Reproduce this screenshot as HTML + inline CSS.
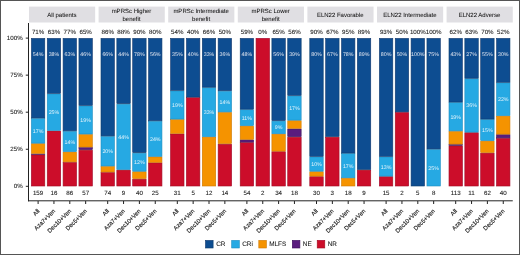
<!DOCTYPE html><html><head><meta charset="utf-8"><style>html,body{margin:0;padding:0;background:#fff;}svg{display:block;will-change:transform;text-rendering:geometricPrecision;font-family:"Liberation Sans",sans-serif;}</style></head><body>
<svg width="520" height="255" viewBox="0 0 520 255">
<defs><filter id="bl" x="-2%" y="-2%" width="104%" height="104%"><feGaussianBlur stdDeviation="0.4"/></filter></defs>
<rect x="0" y="0" width="520" height="255" fill="#fff"/>
<g filter="url(#bl)">
<rect x="28.99" y="6.6" width="66.17" height="15.9" fill="#e0dfe3"/>
<text x="61.88" y="16.8" font-size="6.0" fill="#111" stroke="#111" stroke-width="0.04" text-anchor="middle">All patients</text>
<rect x="31.40" y="154.91" width="13.40" height="31.09" fill="#cc0a2c" stroke="#a00820" stroke-width="0.6"/>
<rect x="31.40" y="153.98" width="13.40" height="0.33" fill="#5a1f7e" stroke="#3a1058" stroke-width="0.6"/>
<rect x="31.40" y="143.72" width="13.40" height="9.65" fill="#f59300" stroke="#d07a00" stroke-width="0.6"/>
<rect x="31.40" y="118.56" width="13.40" height="24.57" fill="#27a9e3" stroke="#1d8cc0" stroke-width="0.6"/>
<rect x="31.40" y="38.40" width="13.40" height="79.56" fill="#114d91" stroke="#0a386c" stroke-width="0.6"/>
<text x="38.10" y="34.0" font-size="6.2" fill="#111" stroke="#111" stroke-width="0.06" text-anchor="middle">71%</text>
<text x="38.10" y="55.6" font-size="5.3" fill="#fff" fill-opacity="0.88" text-anchor="middle">54%</text>
<text x="38.10" y="132.84" font-size="5.3" fill="#fff" fill-opacity="0.88" text-anchor="middle">17%</text>
<text x="38.10" y="194.8" font-size="6.2" fill="#111" stroke="#111" stroke-width="0.06" text-anchor="middle">159</text>
<line x1="38.10" y1="201" x2="38.10" y2="204" stroke="#222" stroke-width="1"/>
<text transform="translate(36.90,208.6) rotate(-45)" font-size="5.9" fill="#222" stroke="#222" stroke-width="0.15" text-anchor="end" dy="0.7em">All</text>
<rect x="47.25" y="131.03" width="13.40" height="54.98" fill="#cc0a2c" stroke="#a00820" stroke-width="0.6"/>
<rect x="47.25" y="93.98" width="13.40" height="36.45" fill="#27a9e3" stroke="#1d8cc0" stroke-width="0.6"/>
<rect x="47.25" y="38.40" width="13.40" height="54.98" fill="#114d91" stroke="#0a386c" stroke-width="0.6"/>
<text x="53.95" y="34.0" font-size="6.2" fill="#111" stroke="#111" stroke-width="0.06" text-anchor="middle">63%</text>
<text x="53.95" y="55.6" font-size="5.3" fill="#fff" fill-opacity="0.88" text-anchor="middle">38%</text>
<text x="53.95" y="114.20" font-size="5.3" fill="#fff" fill-opacity="0.88" text-anchor="middle">25%</text>
<text x="53.95" y="194.8" font-size="6.2" fill="#111" stroke="#111" stroke-width="0.06" text-anchor="middle">16</text>
<line x1="53.95" y1="201" x2="53.95" y2="204" stroke="#222" stroke-width="1"/>
<text transform="translate(52.75,208.6) rotate(-45)" font-size="5.9" fill="#222" stroke="#222" stroke-width="0.15" text-anchor="end" dy="0.7em">Aza7+Ven</text>
<rect x="63.10" y="162.47" width="13.40" height="23.53" fill="#cc0a2c" stroke="#a00820" stroke-width="0.6"/>
<rect x="63.10" y="152.13" width="13.40" height="9.74" fill="#f59300" stroke="#d07a00" stroke-width="0.6"/>
<rect x="63.10" y="131.46" width="13.40" height="20.08" fill="#27a9e3" stroke="#1d8cc0" stroke-width="0.6"/>
<rect x="63.10" y="38.40" width="13.40" height="92.46" fill="#114d91" stroke="#0a386c" stroke-width="0.6"/>
<text x="69.80" y="34.0" font-size="6.2" fill="#111" stroke="#111" stroke-width="0.06" text-anchor="middle">77%</text>
<text x="69.80" y="55.6" font-size="5.3" fill="#fff" fill-opacity="0.88" text-anchor="middle">63%</text>
<text x="69.80" y="143.50" font-size="5.3" fill="#fff" fill-opacity="0.88" text-anchor="middle">14%</text>
<text x="69.80" y="194.8" font-size="6.2" fill="#111" stroke="#111" stroke-width="0.06" text-anchor="middle">86</text>
<line x1="69.80" y1="201" x2="69.80" y2="204" stroke="#222" stroke-width="1"/>
<text transform="translate(68.60,208.6) rotate(-45)" font-size="5.9" fill="#222" stroke="#222" stroke-width="0.15" text-anchor="end" dy="0.7em">Dec10+Ven</text>
<rect x="78.95" y="150.20" width="13.40" height="35.80" fill="#cc0a2c" stroke="#a00820" stroke-width="0.6"/>
<rect x="78.95" y="147.60" width="13.40" height="2.00" fill="#5a1f7e" stroke="#3a1058" stroke-width="0.6"/>
<rect x="78.95" y="134.60" width="13.40" height="12.40" fill="#f59300" stroke="#d07a00" stroke-width="0.6"/>
<rect x="78.95" y="106.00" width="13.40" height="28.00" fill="#27a9e3" stroke="#1d8cc0" stroke-width="0.6"/>
<rect x="78.95" y="38.40" width="13.40" height="67.00" fill="#114d91" stroke="#0a386c" stroke-width="0.6"/>
<text x="85.65" y="34.0" font-size="6.2" fill="#111" stroke="#111" stroke-width="0.06" text-anchor="middle">65%</text>
<text x="85.65" y="55.6" font-size="5.3" fill="#fff" fill-opacity="0.88" text-anchor="middle">46%</text>
<text x="85.65" y="122.00" font-size="5.3" fill="#fff" fill-opacity="0.88" text-anchor="middle">19%</text>
<text x="85.65" y="194.8" font-size="6.2" fill="#111" stroke="#111" stroke-width="0.06" text-anchor="middle">57</text>
<line x1="85.65" y1="201" x2="85.65" y2="204" stroke="#222" stroke-width="1"/>
<text transform="translate(84.45,208.6) rotate(-45)" font-size="5.9" fill="#222" stroke="#222" stroke-width="0.15" text-anchor="end" dy="0.7em">Dec5+Ven</text>
<rect x="98.59" y="6.6" width="66.17" height="15.9" fill="#e0dfe3"/>
<text x="131.47" y="13.4" font-size="6.0" fill="#111" stroke="#111" stroke-width="0.04" text-anchor="middle">mPRSc Higher</text>
<text x="131.47" y="21.0" font-size="6.0" fill="#111" stroke="#111" stroke-width="0.04" text-anchor="middle">benefit</text>
<rect x="101.00" y="172.58" width="13.40" height="13.42" fill="#cc0a2c" stroke="#a00820" stroke-width="0.6"/>
<rect x="101.00" y="166.57" width="13.40" height="5.41" fill="#f59300" stroke="#d07a00" stroke-width="0.6"/>
<rect x="101.00" y="136.53" width="13.40" height="29.44" fill="#27a9e3" stroke="#1d8cc0" stroke-width="0.6"/>
<rect x="101.00" y="38.40" width="13.40" height="97.53" fill="#114d91" stroke="#0a386c" stroke-width="0.6"/>
<text x="107.70" y="34.0" font-size="6.2" fill="#111" stroke="#111" stroke-width="0.06" text-anchor="middle">86%</text>
<text x="107.70" y="55.6" font-size="5.3" fill="#fff" fill-opacity="0.88" text-anchor="middle">66%</text>
<text x="107.70" y="153.25" font-size="5.3" fill="#fff" fill-opacity="0.88" text-anchor="middle">20%</text>
<text x="107.70" y="194.8" font-size="6.2" fill="#111" stroke="#111" stroke-width="0.06" text-anchor="middle">74</text>
<line x1="107.70" y1="201" x2="107.70" y2="204" stroke="#222" stroke-width="1"/>
<text transform="translate(106.50,208.6) rotate(-45)" font-size="5.9" fill="#222" stroke="#222" stroke-width="0.15" text-anchor="end" dy="0.7em">All</text>
<rect x="116.85" y="170.13" width="13.40" height="15.87" fill="#cc0a2c" stroke="#a00820" stroke-width="0.6"/>
<rect x="116.85" y="104.27" width="13.40" height="65.27" fill="#27a9e3" stroke="#1d8cc0" stroke-width="0.6"/>
<rect x="116.85" y="38.40" width="13.40" height="65.27" fill="#114d91" stroke="#0a386c" stroke-width="0.6"/>
<text x="123.55" y="34.0" font-size="6.2" fill="#111" stroke="#111" stroke-width="0.06" text-anchor="middle">88%</text>
<text x="123.55" y="55.6" font-size="5.3" fill="#fff" fill-opacity="0.88" text-anchor="middle">44%</text>
<text x="123.55" y="138.90" font-size="5.3" fill="#fff" fill-opacity="0.88" text-anchor="middle">44%</text>
<text x="123.55" y="194.8" font-size="6.2" fill="#111" stroke="#111" stroke-width="0.06" text-anchor="middle">9</text>
<line x1="123.55" y1="201" x2="123.55" y2="204" stroke="#222" stroke-width="1"/>
<text transform="translate(122.35,208.6) rotate(-45)" font-size="5.9" fill="#222" stroke="#222" stroke-width="0.15" text-anchor="end" dy="0.7em">Aza7+Ven</text>
<rect x="132.70" y="179.19" width="13.40" height="6.81" fill="#cc0a2c" stroke="#a00820" stroke-width="0.6"/>
<rect x="132.70" y="171.78" width="13.40" height="6.81" fill="#f59300" stroke="#d07a00" stroke-width="0.6"/>
<rect x="132.70" y="153.26" width="13.40" height="17.93" fill="#27a9e3" stroke="#1d8cc0" stroke-width="0.6"/>
<rect x="132.70" y="38.40" width="13.40" height="114.26" fill="#114d91" stroke="#0a386c" stroke-width="0.6"/>
<text x="139.40" y="34.0" font-size="6.2" fill="#111" stroke="#111" stroke-width="0.06" text-anchor="middle">90%</text>
<text x="139.40" y="55.6" font-size="5.3" fill="#fff" fill-opacity="0.88" text-anchor="middle">78%</text>
<text x="139.40" y="164.22" font-size="5.3" fill="#fff" fill-opacity="0.88" text-anchor="middle">12%</text>
<text x="139.40" y="194.8" font-size="6.2" fill="#111" stroke="#111" stroke-width="0.06" text-anchor="middle">40</text>
<line x1="139.40" y1="201" x2="139.40" y2="204" stroke="#222" stroke-width="1"/>
<text transform="translate(138.20,208.6) rotate(-45)" font-size="5.9" fill="#222" stroke="#222" stroke-width="0.15" text-anchor="end" dy="0.7em">Dec10+Ven</text>
<rect x="148.55" y="162.89" width="13.40" height="23.11" fill="#cc0a2c" stroke="#a00820" stroke-width="0.6"/>
<rect x="148.55" y="156.96" width="13.40" height="5.33" fill="#f59300" stroke="#d07a00" stroke-width="0.6"/>
<rect x="148.55" y="121.39" width="13.40" height="34.97" fill="#27a9e3" stroke="#1d8cc0" stroke-width="0.6"/>
<rect x="148.55" y="38.40" width="13.40" height="82.39" fill="#114d91" stroke="#0a386c" stroke-width="0.6"/>
<text x="155.25" y="34.0" font-size="6.2" fill="#111" stroke="#111" stroke-width="0.06" text-anchor="middle">80%</text>
<text x="155.25" y="55.6" font-size="5.3" fill="#fff" fill-opacity="0.88" text-anchor="middle">56%</text>
<text x="155.25" y="140.88" font-size="5.3" fill="#fff" fill-opacity="0.88" text-anchor="middle">24%</text>
<text x="155.25" y="194.8" font-size="6.2" fill="#111" stroke="#111" stroke-width="0.06" text-anchor="middle">25</text>
<line x1="155.25" y1="201" x2="155.25" y2="204" stroke="#222" stroke-width="1"/>
<text transform="translate(154.05,208.6) rotate(-45)" font-size="5.9" fill="#222" stroke="#222" stroke-width="0.15" text-anchor="end" dy="0.7em">Dec5+Ven</text>
<rect x="168.19" y="6.6" width="66.17" height="15.9" fill="#e0dfe3"/>
<text x="201.07" y="13.4" font-size="6.0" fill="#111" stroke="#111" stroke-width="0.04" text-anchor="middle">mPRSc Intermediate</text>
<text x="201.07" y="21.0" font-size="6.0" fill="#111" stroke="#111" stroke-width="0.04" text-anchor="middle">benefit</text>
<rect x="170.60" y="134.01" width="13.40" height="51.99" fill="#cc0a2c" stroke="#a00820" stroke-width="0.6"/>
<rect x="170.60" y="119.67" width="13.40" height="13.74" fill="#f59300" stroke="#d07a00" stroke-width="0.6"/>
<rect x="170.60" y="90.99" width="13.40" height="28.08" fill="#27a9e3" stroke="#1d8cc0" stroke-width="0.6"/>
<rect x="170.60" y="38.40" width="13.40" height="51.99" fill="#114d91" stroke="#0a386c" stroke-width="0.6"/>
<text x="177.30" y="34.0" font-size="6.2" fill="#111" stroke="#111" stroke-width="0.06" text-anchor="middle">54%</text>
<text x="177.30" y="55.6" font-size="5.3" fill="#fff" fill-opacity="0.88" text-anchor="middle">35%</text>
<text x="177.30" y="107.03" font-size="5.3" fill="#fff" fill-opacity="0.88" text-anchor="middle">19%</text>
<text x="177.30" y="194.8" font-size="6.2" fill="#111" stroke="#111" stroke-width="0.06" text-anchor="middle">31</text>
<line x1="177.30" y1="201" x2="177.30" y2="204" stroke="#222" stroke-width="1"/>
<text transform="translate(176.10,208.6) rotate(-45)" font-size="5.9" fill="#222" stroke="#222" stroke-width="0.15" text-anchor="end" dy="0.7em">All</text>
<rect x="186.45" y="97.68" width="13.40" height="88.32" fill="#cc0a2c" stroke="#a00820" stroke-width="0.6"/>
<rect x="186.45" y="38.40" width="13.40" height="58.68" fill="#114d91" stroke="#0a386c" stroke-width="0.6"/>
<text x="193.15" y="34.0" font-size="6.2" fill="#111" stroke="#111" stroke-width="0.06" text-anchor="middle">40%</text>
<text x="193.15" y="55.6" font-size="5.3" fill="#fff" fill-opacity="0.88" text-anchor="middle">40%</text>
<text x="193.15" y="194.8" font-size="6.2" fill="#111" stroke="#111" stroke-width="0.06" text-anchor="middle">5</text>
<line x1="193.15" y1="201" x2="193.15" y2="204" stroke="#222" stroke-width="1"/>
<text transform="translate(191.95,208.6) rotate(-45)" font-size="5.9" fill="#222" stroke="#222" stroke-width="0.15" text-anchor="end" dy="0.7em">Aza7+Ven</text>
<rect x="202.30" y="137.20" width="13.40" height="48.80" fill="#f59300" stroke="#d07a00" stroke-width="0.6"/>
<rect x="202.30" y="87.80" width="13.40" height="48.80" fill="#27a9e3" stroke="#1d8cc0" stroke-width="0.6"/>
<rect x="202.30" y="38.40" width="13.40" height="48.80" fill="#114d91" stroke="#0a386c" stroke-width="0.6"/>
<text x="209.00" y="34.0" font-size="6.2" fill="#111" stroke="#111" stroke-width="0.06" text-anchor="middle">66%</text>
<text x="209.00" y="55.6" font-size="5.3" fill="#fff" fill-opacity="0.88" text-anchor="middle">33%</text>
<text x="209.00" y="114.20" font-size="5.3" fill="#fff" fill-opacity="0.88" text-anchor="middle">33%</text>
<text x="209.00" y="194.8" font-size="6.2" fill="#111" stroke="#111" stroke-width="0.06" text-anchor="middle">12</text>
<line x1="209.00" y1="201" x2="209.00" y2="204" stroke="#222" stroke-width="1"/>
<text transform="translate(207.80,208.6) rotate(-45)" font-size="5.9" fill="#222" stroke="#222" stroke-width="0.15" text-anchor="end" dy="0.7em">Dec10+Ven</text>
<rect x="218.15" y="144.26" width="13.40" height="41.74" fill="#cc0a2c" stroke="#a00820" stroke-width="0.6"/>
<rect x="218.15" y="112.50" width="13.40" height="31.16" fill="#f59300" stroke="#d07a00" stroke-width="0.6"/>
<rect x="218.15" y="91.33" width="13.40" height="20.57" fill="#27a9e3" stroke="#1d8cc0" stroke-width="0.6"/>
<rect x="218.15" y="38.40" width="13.40" height="52.33" fill="#114d91" stroke="#0a386c" stroke-width="0.6"/>
<text x="224.85" y="34.0" font-size="6.2" fill="#111" stroke="#111" stroke-width="0.06" text-anchor="middle">50%</text>
<text x="224.85" y="55.6" font-size="5.3" fill="#fff" fill-opacity="0.88" text-anchor="middle">36%</text>
<text x="224.85" y="103.61" font-size="5.3" fill="#fff" fill-opacity="0.88" text-anchor="middle">14%</text>
<text x="224.85" y="194.8" font-size="6.2" fill="#111" stroke="#111" stroke-width="0.06" text-anchor="middle">14</text>
<line x1="224.85" y1="201" x2="224.85" y2="204" stroke="#222" stroke-width="1"/>
<text transform="translate(223.65,208.6) rotate(-45)" font-size="5.9" fill="#222" stroke="#222" stroke-width="0.15" text-anchor="end" dy="0.7em">Dec5+Ven</text>
<rect x="237.79" y="6.6" width="66.17" height="15.9" fill="#e0dfe3"/>
<text x="270.68" y="13.4" font-size="6.0" fill="#111" stroke="#111" stroke-width="0.04" text-anchor="middle">mPRSc Lower</text>
<text x="270.68" y="21.0" font-size="6.0" fill="#111" stroke="#111" stroke-width="0.04" text-anchor="middle">benefit</text>
<rect x="240.20" y="142.69" width="13.40" height="43.31" fill="#cc0a2c" stroke="#a00820" stroke-width="0.6"/>
<rect x="240.20" y="139.94" width="13.40" height="2.14" fill="#5a1f7e" stroke="#3a1058" stroke-width="0.6"/>
<rect x="240.20" y="126.22" width="13.40" height="13.12" fill="#f59300" stroke="#d07a00" stroke-width="0.6"/>
<rect x="240.20" y="109.76" width="13.40" height="15.87" fill="#27a9e3" stroke="#1d8cc0" stroke-width="0.6"/>
<rect x="240.20" y="38.40" width="13.40" height="70.76" fill="#114d91" stroke="#0a386c" stroke-width="0.6"/>
<text x="246.90" y="34.0" font-size="6.2" fill="#111" stroke="#111" stroke-width="0.06" text-anchor="middle">59%</text>
<text x="246.90" y="55.6" font-size="5.3" fill="#fff" fill-opacity="0.88" text-anchor="middle">48%</text>
<text x="246.90" y="119.69" font-size="5.3" fill="#fff" fill-opacity="0.88" text-anchor="middle">11%</text>
<text x="246.90" y="194.8" font-size="6.2" fill="#111" stroke="#111" stroke-width="0.06" text-anchor="middle">54</text>
<line x1="246.90" y1="201" x2="246.90" y2="204" stroke="#222" stroke-width="1"/>
<text transform="translate(245.70,208.6) rotate(-45)" font-size="5.9" fill="#222" stroke="#222" stroke-width="0.15" text-anchor="end" dy="0.7em">All</text>
<rect x="256.05" y="38.40" width="13.40" height="147.60" fill="#cc0a2c" stroke="#a00820" stroke-width="0.6"/>
<text x="262.75" y="34.0" font-size="6.2" fill="#111" stroke="#111" stroke-width="0.06" text-anchor="middle">0%</text>
<text x="262.75" y="194.8" font-size="6.2" fill="#111" stroke="#111" stroke-width="0.06" text-anchor="middle">2</text>
<line x1="262.75" y1="201" x2="262.75" y2="204" stroke="#222" stroke-width="1"/>
<text transform="translate(261.55,208.6) rotate(-45)" font-size="5.9" fill="#222" stroke="#222" stroke-width="0.15" text-anchor="end" dy="0.7em">Aza7+Ven</text>
<rect x="271.90" y="151.73" width="13.40" height="34.27" fill="#cc0a2c" stroke="#a00820" stroke-width="0.6"/>
<rect x="271.90" y="134.29" width="13.40" height="16.84" fill="#f59300" stroke="#d07a00" stroke-width="0.6"/>
<rect x="271.90" y="121.22" width="13.40" height="12.48" fill="#27a9e3" stroke="#1d8cc0" stroke-width="0.6"/>
<rect x="271.90" y="38.40" width="13.40" height="82.22" fill="#114d91" stroke="#0a386c" stroke-width="0.6"/>
<text x="278.60" y="34.0" font-size="6.2" fill="#111" stroke="#111" stroke-width="0.06" text-anchor="middle">65%</text>
<text x="278.60" y="55.6" font-size="5.3" fill="#fff" fill-opacity="0.88" text-anchor="middle">56%</text>
<text x="278.60" y="129.46" font-size="5.3" fill="#fff" fill-opacity="0.88" text-anchor="middle">9%</text>
<text x="278.60" y="194.8" font-size="6.2" fill="#111" stroke="#111" stroke-width="0.06" text-anchor="middle">34</text>
<line x1="278.60" y1="201" x2="278.60" y2="204" stroke="#222" stroke-width="1"/>
<text transform="translate(277.40,208.6) rotate(-45)" font-size="5.9" fill="#222" stroke="#222" stroke-width="0.15" text-anchor="end" dy="0.7em">Dec10+Ven</text>
<rect x="287.75" y="137.20" width="13.40" height="48.80" fill="#cc0a2c" stroke="#a00820" stroke-width="0.6"/>
<rect x="287.75" y="128.97" width="13.40" height="7.63" fill="#5a1f7e" stroke="#3a1058" stroke-width="0.6"/>
<rect x="287.75" y="120.73" width="13.40" height="7.63" fill="#f59300" stroke="#d07a00" stroke-width="0.6"/>
<rect x="287.75" y="96.03" width="13.40" height="24.10" fill="#27a9e3" stroke="#1d8cc0" stroke-width="0.6"/>
<rect x="287.75" y="38.40" width="13.40" height="57.03" fill="#114d91" stroke="#0a386c" stroke-width="0.6"/>
<text x="294.45" y="34.0" font-size="6.2" fill="#111" stroke="#111" stroke-width="0.06" text-anchor="middle">56%</text>
<text x="294.45" y="55.6" font-size="5.3" fill="#fff" fill-opacity="0.88" text-anchor="middle">39%</text>
<text x="294.45" y="110.08" font-size="5.3" fill="#fff" fill-opacity="0.88" text-anchor="middle">17%</text>
<text x="294.45" y="194.8" font-size="6.2" fill="#111" stroke="#111" stroke-width="0.06" text-anchor="middle">18</text>
<line x1="294.45" y1="201" x2="294.45" y2="204" stroke="#222" stroke-width="1"/>
<text transform="translate(293.25,208.6) rotate(-45)" font-size="5.9" fill="#222" stroke="#222" stroke-width="0.15" text-anchor="end" dy="0.7em">Dec5+Ven</text>
<rect x="307.39" y="6.6" width="66.17" height="15.9" fill="#e0dfe3"/>
<text x="340.28" y="16.8" font-size="6.0" fill="#111" stroke="#111" stroke-width="0.04" text-anchor="middle">ELN22 Favorable</text>
<rect x="309.80" y="176.72" width="13.40" height="9.28" fill="#cc0a2c" stroke="#a00820" stroke-width="0.6"/>
<rect x="309.80" y="171.78" width="13.40" height="4.34" fill="#f59300" stroke="#d07a00" stroke-width="0.6"/>
<rect x="309.80" y="156.96" width="13.40" height="14.22" fill="#27a9e3" stroke="#1d8cc0" stroke-width="0.6"/>
<rect x="309.80" y="38.40" width="13.40" height="117.96" fill="#114d91" stroke="#0a386c" stroke-width="0.6"/>
<text x="316.50" y="34.0" font-size="6.2" fill="#111" stroke="#111" stroke-width="0.06" text-anchor="middle">90%</text>
<text x="316.50" y="55.6" font-size="5.3" fill="#fff" fill-opacity="0.88" text-anchor="middle">80%</text>
<text x="316.50" y="166.07" font-size="5.3" fill="#fff" fill-opacity="0.88" text-anchor="middle">10%</text>
<text x="316.50" y="194.8" font-size="6.2" fill="#111" stroke="#111" stroke-width="0.06" text-anchor="middle">30</text>
<line x1="316.50" y1="201" x2="316.50" y2="204" stroke="#222" stroke-width="1"/>
<text transform="translate(315.30,208.6) rotate(-45)" font-size="5.9" fill="#222" stroke="#222" stroke-width="0.15" text-anchor="end" dy="0.7em">All</text>
<rect x="325.65" y="137.20" width="13.40" height="48.80" fill="#cc0a2c" stroke="#a00820" stroke-width="0.6"/>
<rect x="325.65" y="38.40" width="13.40" height="98.20" fill="#114d91" stroke="#0a386c" stroke-width="0.6"/>
<text x="332.35" y="34.0" font-size="6.2" fill="#111" stroke="#111" stroke-width="0.06" text-anchor="middle">67%</text>
<text x="332.35" y="55.6" font-size="5.3" fill="#fff" fill-opacity="0.88" text-anchor="middle">67%</text>
<text x="332.35" y="194.8" font-size="6.2" fill="#111" stroke="#111" stroke-width="0.06" text-anchor="middle">3</text>
<line x1="332.35" y1="201" x2="332.35" y2="204" stroke="#222" stroke-width="1"/>
<text transform="translate(331.15,208.6) rotate(-45)" font-size="5.9" fill="#222" stroke="#222" stroke-width="0.15" text-anchor="end" dy="0.7em">Aza7+Ven</text>
<rect x="341.50" y="178.37" width="13.40" height="7.63" fill="#f59300" stroke="#d07a00" stroke-width="0.6"/>
<rect x="341.50" y="153.67" width="13.40" height="24.10" fill="#27a9e3" stroke="#1d8cc0" stroke-width="0.6"/>
<rect x="341.50" y="38.40" width="13.40" height="114.67" fill="#114d91" stroke="#0a386c" stroke-width="0.6"/>
<text x="348.20" y="34.0" font-size="6.2" fill="#111" stroke="#111" stroke-width="0.06" text-anchor="middle">95%</text>
<text x="348.20" y="55.6" font-size="5.3" fill="#fff" fill-opacity="0.88" text-anchor="middle">78%</text>
<text x="348.20" y="167.72" font-size="5.3" fill="#fff" fill-opacity="0.88" text-anchor="middle">17%</text>
<text x="348.20" y="194.8" font-size="6.2" fill="#111" stroke="#111" stroke-width="0.06" text-anchor="middle">18</text>
<line x1="348.20" y1="201" x2="348.20" y2="204" stroke="#222" stroke-width="1"/>
<text transform="translate(347.00,208.6) rotate(-45)" font-size="5.9" fill="#222" stroke="#222" stroke-width="0.15" text-anchor="end" dy="0.7em">Dec10+Ven</text>
<rect x="357.35" y="170.13" width="13.40" height="15.87" fill="#cc0a2c" stroke="#a00820" stroke-width="0.6"/>
<rect x="357.35" y="38.40" width="13.40" height="131.13" fill="#114d91" stroke="#0a386c" stroke-width="0.6"/>
<text x="364.05" y="34.0" font-size="6.2" fill="#111" stroke="#111" stroke-width="0.06" text-anchor="middle">89%</text>
<text x="364.05" y="55.6" font-size="5.3" fill="#fff" fill-opacity="0.88" text-anchor="middle">89%</text>
<text x="364.05" y="194.8" font-size="6.2" fill="#111" stroke="#111" stroke-width="0.06" text-anchor="middle">9</text>
<line x1="364.05" y1="201" x2="364.05" y2="204" stroke="#222" stroke-width="1"/>
<text transform="translate(362.85,208.6) rotate(-45)" font-size="5.9" fill="#222" stroke="#222" stroke-width="0.15" text-anchor="end" dy="0.7em">Dec5+Ven</text>
<rect x="376.99" y="6.6" width="66.17" height="15.9" fill="#e0dfe3"/>
<text x="409.88" y="16.8" font-size="6.0" fill="#111" stroke="#111" stroke-width="0.04" text-anchor="middle">ELN22 Intermediate</text>
<rect x="379.40" y="176.72" width="13.40" height="9.28" fill="#cc0a2c" stroke="#a00820" stroke-width="0.6"/>
<rect x="379.40" y="156.96" width="13.40" height="19.16" fill="#27a9e3" stroke="#1d8cc0" stroke-width="0.6"/>
<rect x="379.40" y="38.40" width="13.40" height="117.96" fill="#114d91" stroke="#0a386c" stroke-width="0.6"/>
<text x="386.10" y="34.0" font-size="6.2" fill="#111" stroke="#111" stroke-width="0.06" text-anchor="middle">93%</text>
<text x="386.10" y="55.6" font-size="5.3" fill="#fff" fill-opacity="0.88" text-anchor="middle">80%</text>
<text x="386.10" y="168.54" font-size="5.3" fill="#fff" fill-opacity="0.88" text-anchor="middle">13%</text>
<text x="386.10" y="194.8" font-size="6.2" fill="#111" stroke="#111" stroke-width="0.06" text-anchor="middle">15</text>
<line x1="386.10" y1="201" x2="386.10" y2="204" stroke="#222" stroke-width="1"/>
<text transform="translate(384.90,208.6) rotate(-45)" font-size="5.9" fill="#222" stroke="#222" stroke-width="0.15" text-anchor="end" dy="0.7em">All</text>
<rect x="395.25" y="112.50" width="13.40" height="73.50" fill="#cc0a2c" stroke="#a00820" stroke-width="0.6"/>
<rect x="395.25" y="38.40" width="13.40" height="73.50" fill="#114d91" stroke="#0a386c" stroke-width="0.6"/>
<text x="401.95" y="34.0" font-size="6.2" fill="#111" stroke="#111" stroke-width="0.06" text-anchor="middle">50%</text>
<text x="401.95" y="55.6" font-size="5.3" fill="#fff" fill-opacity="0.88" text-anchor="middle">50%</text>
<text x="401.95" y="194.8" font-size="6.2" fill="#111" stroke="#111" stroke-width="0.06" text-anchor="middle">2</text>
<line x1="401.95" y1="201" x2="401.95" y2="204" stroke="#222" stroke-width="1"/>
<text transform="translate(400.75,208.6) rotate(-45)" font-size="5.9" fill="#222" stroke="#222" stroke-width="0.15" text-anchor="end" dy="0.7em">Aza7+Ven</text>
<rect x="411.10" y="38.40" width="13.40" height="147.60" fill="#114d91" stroke="#0a386c" stroke-width="0.6"/>
<text x="417.80" y="34.0" font-size="6.2" fill="#111" stroke="#111" stroke-width="0.06" text-anchor="middle">100%</text>
<text x="417.80" y="55.6" font-size="5.3" fill="#fff" fill-opacity="0.88" text-anchor="middle">100%</text>
<text x="417.80" y="194.8" font-size="6.2" fill="#111" stroke="#111" stroke-width="0.06" text-anchor="middle">5</text>
<line x1="417.80" y1="201" x2="417.80" y2="204" stroke="#222" stroke-width="1"/>
<text transform="translate(416.60,208.6) rotate(-45)" font-size="5.9" fill="#222" stroke="#222" stroke-width="0.15" text-anchor="end" dy="0.7em">Dec10+Ven</text>
<rect x="426.95" y="149.55" width="13.40" height="36.45" fill="#27a9e3" stroke="#1d8cc0" stroke-width="0.6"/>
<rect x="426.95" y="38.40" width="13.40" height="110.55" fill="#114d91" stroke="#0a386c" stroke-width="0.6"/>
<text x="433.65" y="34.0" font-size="6.2" fill="#111" stroke="#111" stroke-width="0.06" text-anchor="middle">100%</text>
<text x="433.65" y="55.6" font-size="5.3" fill="#fff" fill-opacity="0.88" text-anchor="middle">75%</text>
<text x="433.65" y="169.78" font-size="5.3" fill="#fff" fill-opacity="0.88" text-anchor="middle">25%</text>
<text x="433.65" y="194.8" font-size="6.2" fill="#111" stroke="#111" stroke-width="0.06" text-anchor="middle">8</text>
<line x1="433.65" y1="201" x2="433.65" y2="204" stroke="#222" stroke-width="1"/>
<text transform="translate(432.45,208.6) rotate(-45)" font-size="5.9" fill="#222" stroke="#222" stroke-width="0.15" text-anchor="end" dy="0.7em">Dec5+Ven</text>
<rect x="446.59" y="6.6" width="66.17" height="15.9" fill="#e0dfe3"/>
<text x="479.48" y="16.8" font-size="6.0" fill="#111" stroke="#111" stroke-width="0.04" text-anchor="middle">ELN22 Adverse</text>
<rect x="449.00" y="145.94" width="13.40" height="40.06" fill="#cc0a2c" stroke="#a00820" stroke-width="0.6"/>
<rect x="449.00" y="144.63" width="13.40" height="0.71" fill="#5a1f7e" stroke="#3a1058" stroke-width="0.6"/>
<rect x="449.00" y="131.52" width="13.40" height="12.52" fill="#f59300" stroke="#d07a00" stroke-width="0.6"/>
<rect x="449.00" y="102.66" width="13.40" height="28.25" fill="#27a9e3" stroke="#1d8cc0" stroke-width="0.6"/>
<rect x="449.00" y="38.40" width="13.40" height="63.66" fill="#114d91" stroke="#0a386c" stroke-width="0.6"/>
<text x="455.70" y="34.0" font-size="6.2" fill="#111" stroke="#111" stroke-width="0.06" text-anchor="middle">62%</text>
<text x="455.70" y="55.6" font-size="5.3" fill="#fff" fill-opacity="0.88" text-anchor="middle">43%</text>
<text x="455.70" y="118.79" font-size="5.3" fill="#fff" fill-opacity="0.88" text-anchor="middle">19%</text>
<text x="455.70" y="194.8" font-size="6.2" fill="#111" stroke="#111" stroke-width="0.06" text-anchor="middle">113</text>
<line x1="455.70" y1="201" x2="455.70" y2="204" stroke="#222" stroke-width="1"/>
<text transform="translate(454.50,208.6) rotate(-45)" font-size="5.9" fill="#222" stroke="#222" stroke-width="0.15" text-anchor="end" dy="0.7em">All</text>
<rect x="464.85" y="132.71" width="13.40" height="53.29" fill="#cc0a2c" stroke="#a00820" stroke-width="0.6"/>
<rect x="464.85" y="78.82" width="13.40" height="53.29" fill="#27a9e3" stroke="#1d8cc0" stroke-width="0.6"/>
<rect x="464.85" y="38.40" width="13.40" height="39.82" fill="#114d91" stroke="#0a386c" stroke-width="0.6"/>
<text x="471.55" y="34.0" font-size="6.2" fill="#111" stroke="#111" stroke-width="0.06" text-anchor="middle">63%</text>
<text x="471.55" y="55.6" font-size="5.3" fill="#fff" fill-opacity="0.88" text-anchor="middle">27%</text>
<text x="471.55" y="107.46" font-size="5.3" fill="#fff" fill-opacity="0.88" text-anchor="middle">36%</text>
<text x="471.55" y="194.8" font-size="6.2" fill="#111" stroke="#111" stroke-width="0.06" text-anchor="middle">11</text>
<line x1="471.55" y1="201" x2="471.55" y2="204" stroke="#222" stroke-width="1"/>
<text transform="translate(470.35,208.6) rotate(-45)" font-size="5.9" fill="#222" stroke="#222" stroke-width="0.15" text-anchor="end" dy="0.7em">Aza7+Ven</text>
<rect x="480.70" y="153.14" width="13.40" height="32.86" fill="#cc0a2c" stroke="#a00820" stroke-width="0.6"/>
<rect x="480.70" y="141.18" width="13.40" height="11.35" fill="#f59300" stroke="#d07a00" stroke-width="0.6"/>
<rect x="480.70" y="119.67" width="13.40" height="20.91" fill="#27a9e3" stroke="#1d8cc0" stroke-width="0.6"/>
<rect x="480.70" y="38.40" width="13.40" height="80.67" fill="#114d91" stroke="#0a386c" stroke-width="0.6"/>
<text x="487.40" y="34.0" font-size="6.2" fill="#111" stroke="#111" stroke-width="0.06" text-anchor="middle">70%</text>
<text x="487.40" y="55.6" font-size="5.3" fill="#fff" fill-opacity="0.88" text-anchor="middle">55%</text>
<text x="487.40" y="132.13" font-size="5.3" fill="#fff" fill-opacity="0.88" text-anchor="middle">15%</text>
<text x="487.40" y="194.8" font-size="6.2" fill="#111" stroke="#111" stroke-width="0.06" text-anchor="middle">62</text>
<line x1="487.40" y1="201" x2="487.40" y2="204" stroke="#222" stroke-width="1"/>
<text transform="translate(486.20,208.6) rotate(-45)" font-size="5.9" fill="#222" stroke="#222" stroke-width="0.15" text-anchor="end" dy="0.7em">Dec10+Ven</text>
<rect x="496.55" y="138.44" width="13.40" height="47.57" fill="#cc0a2c" stroke="#a00820" stroke-width="0.6"/>
<rect x="496.55" y="134.73" width="13.40" height="3.11" fill="#5a1f7e" stroke="#3a1058" stroke-width="0.6"/>
<rect x="496.55" y="116.20" width="13.40" height="17.93" fill="#f59300" stroke="#d07a00" stroke-width="0.6"/>
<rect x="496.55" y="82.86" width="13.40" height="32.75" fill="#27a9e3" stroke="#1d8cc0" stroke-width="0.6"/>
<rect x="496.55" y="38.40" width="13.40" height="43.86" fill="#114d91" stroke="#0a386c" stroke-width="0.6"/>
<text x="503.25" y="34.0" font-size="6.2" fill="#111" stroke="#111" stroke-width="0.06" text-anchor="middle">52%</text>
<text x="503.25" y="55.6" font-size="5.3" fill="#fff" fill-opacity="0.88" text-anchor="middle">30%</text>
<text x="503.25" y="101.23" font-size="5.3" fill="#fff" fill-opacity="0.88" text-anchor="middle">22%</text>
<text x="503.25" y="194.8" font-size="6.2" fill="#111" stroke="#111" stroke-width="0.06" text-anchor="middle">40</text>
<line x1="503.25" y1="201" x2="503.25" y2="204" stroke="#222" stroke-width="1"/>
<text transform="translate(502.05,208.6) rotate(-45)" font-size="5.9" fill="#222" stroke="#222" stroke-width="0.15" text-anchor="end" dy="0.7em">Dec5+Ven</text>
<line x1="28.5" y1="23" x2="28.5" y2="201.3" stroke="#222" stroke-width="1"/>
<line x1="28" y1="200.8" x2="512.75" y2="200.8" stroke="#222" stroke-width="1"/>
<line x1="25.8" y1="186.30" x2="28.5" y2="186.30" stroke="#222" stroke-width="1"/>
<text x="22.7" y="188.40" font-size="6.2" fill="#111" stroke="#111" stroke-width="0.06" text-anchor="end">0%</text>
<line x1="25.8" y1="149.25" x2="28.5" y2="149.25" stroke="#222" stroke-width="1"/>
<text x="22.7" y="151.35" font-size="6.2" fill="#111" stroke="#111" stroke-width="0.06" text-anchor="end">25%</text>
<line x1="25.8" y1="112.20" x2="28.5" y2="112.20" stroke="#222" stroke-width="1"/>
<text x="22.7" y="114.30" font-size="6.2" fill="#111" stroke="#111" stroke-width="0.06" text-anchor="end">50%</text>
<line x1="25.8" y1="75.15" x2="28.5" y2="75.15" stroke="#222" stroke-width="1"/>
<text x="22.7" y="77.25" font-size="6.2" fill="#111" stroke="#111" stroke-width="0.06" text-anchor="end">75%</text>
<line x1="25.8" y1="38.10" x2="28.5" y2="38.10" stroke="#222" stroke-width="1"/>
<text x="22.7" y="40.20" font-size="6.2" fill="#111" stroke="#111" stroke-width="0.06" text-anchor="end">100%</text>
<rect x="205.5" y="240.4" width="7.6" height="7.6" fill="#114d91" stroke="#0a386c" stroke-width="0.6"/>
<text x="216.2" y="246.2" font-size="6.4" fill="#111" stroke="#111" stroke-width="0.06">CR</text>
<rect x="231.70000000000002" y="240.4" width="7.6" height="7.6" fill="#27a9e3" stroke="#1d8cc0" stroke-width="0.6"/>
<text x="242.2" y="246.2" font-size="6.4" fill="#111" stroke="#111" stroke-width="0.06">CRi</text>
<rect x="258.8" y="240.4" width="7.6" height="7.6" fill="#f59300" stroke="#d07a00" stroke-width="0.6"/>
<text x="269.2" y="246.2" font-size="6.4" fill="#111" stroke="#111" stroke-width="0.06">MLFS</text>
<rect x="292.3" y="240.4" width="7.6" height="7.6" fill="#5a1f7e" stroke="#3a1058" stroke-width="0.6"/>
<text x="302.8" y="246.2" font-size="6.4" fill="#111" stroke="#111" stroke-width="0.06">NE</text>
<rect x="317.2" y="240.4" width="7.6" height="7.6" fill="#cc0a2c" stroke="#a00820" stroke-width="0.6"/>
<text x="327.7" y="246.2" font-size="6.4" fill="#111" stroke="#111" stroke-width="0.06">NR</text>
<rect x="0.5" y="0.5" width="519" height="254" fill="none" stroke="#555" stroke-width="1"/>
</g></svg></body></html>
